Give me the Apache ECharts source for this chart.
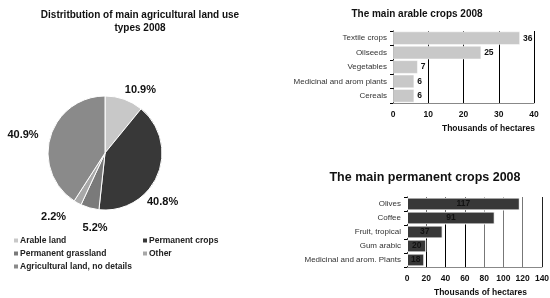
<!DOCTYPE html>
<html>
<head>
    <meta charset="utf-8">
    <title>Agricultural land use 2008</title>
    <script type="text/javascript" src="https://cdn.jsdelivr.net/npm/echarts@6/dist/echarts.min.js"></script>
    <style>
        html, body { margin: 0; padding: 0; background: #fff; }
    </style>
</head>
<body>
    <div id="main" style="width:550px; height:298px;"></div>
    <script type="text/javascript">

    // land use shares (%)
    var landNames = ['Arable land', 'Permanent crops', 'Permanent grassland', 'Other', 'Agricultural land, no details'];
    var landShares = [10.9, 40.8, 5.2, 2.2, 40.9];
    var landColors = ['#c8c8c8', '#383838', '#7a7a7a', '#a8a8a8', '#8a8a8a'];
    // small nudges of the outside labels (the original sits them a bit off the mid angle)
    var pieLabelNudge = [[-11, -2], [-27, 24], [29, 5], [7, 7], [0, 0]];

    // arable crops, thousands of hectares
    var arableCrops = ['Textile crops', 'Oilseeds', 'Vegetables', 'Medicinal and arom plants', 'Cereals'];
    var arableValues = [36, 25, 7, 6, 6];

    // permanent crops, thousands of hectares
    var permCrops = ['Olives', 'Coffee', 'Fruit, tropical', 'Gum arabic', 'Medicinal and arom. Plants'];
    var permValues = [117, 91, 37, 20, 18];

    var FONT = '"Liberation Sans", Arial, sans-serif';
    var myChart = echarts.init(document.getElementById('main'));

    var pieData = landNames.map(function (n, i) {
        return { name: n, value: landShares[i], itemStyle: { color: landColors[i] } };
    });

    var axisLabelStyle = { color: '#111', fontFamily: FONT, fontSize: 8.5, fontWeight: 'bold', margin: 7 };
    var catLabelStyle = { color: '#333', fontFamily: FONT, fontSize: 8, margin: 6 };
    var legendText = { fontFamily: FONT, fontSize: 8.5, fontWeight: 'bold', color: '#222', padding: [0, 0, 0, -4] };

    option = {
        backgroundColor: '#fff',
        animation: false,
        title: [
            {
                text: 'Distritbution of main agricultural land use\ntypes 2008',
                left: 140, top: 9, textAlign: 'center', padding: 0,
                textStyle: { fontFamily: FONT, fontSize: 10, fontWeight: 'bold', color: '#111', lineHeight: 13 }
            },
            {
                text: 'The main arable crops 2008',
                left: 417, top: 9, textAlign: 'center', padding: 0,
                textStyle: { fontFamily: FONT, fontSize: 10, fontWeight: 'bold', color: '#111' }
            },
            {
                text: 'The main permanent crops 2008',
                left: 425, top: 171, textAlign: 'center', padding: 0,
                textStyle: { fontFamily: FONT, fontSize: 12.5, fontWeight: 'bold', color: '#111' }
            }
        ],
        legend: [
            {
                left: 12, top: 236, orient: 'vertical', itemGap: 4, padding: 0,
                itemWidth: 6, itemHeight: 6, icon: 'rect',
                data: ['Arable land', 'Permanent grassland', 'Agricultural land, no details'],
                textStyle: legendText
            },
            {
                left: 141, top: 236, orient: 'vertical', itemGap: 4, padding: 0,
                itemWidth: 6, itemHeight: 6, icon: 'rect',
                data: ['Permanent crops', 'Other'],
                textStyle: legendText
            }
        ],
        grid: [
            { left: 393, top: 31, width: 141, height: 72, outerBoundsMode: 'none' },
            { left: 407, top: 197, width: 135, height: 70, outerBoundsMode: 'none' }
        ],
        xAxis: [
            {
                gridIndex: 0, type: 'value', min: 0, max: 40, interval: 10,
                name: 'Thousands of hectares', nameLocation: 'middle', nameGap: 21,
                nameTextStyle: { fontFamily: FONT, fontSize: 8.5, fontWeight: 'bold', color: '#111', padding: [0, 0, 0, 50] },
                axisLine: { show: true, lineStyle: { color: '#888' } },
                axisTick: { show: false },
                axisLabel: axisLabelStyle,
                splitLine: { show: true, lineStyle: { color: '#000', width: 1 } }
            },
            {
                gridIndex: 1, type: 'value', min: 0, max: 140, interval: 20,
                name: 'Thousands of hectares', nameLocation: 'middle', nameGap: 21,
                nameTextStyle: { fontFamily: FONT, fontSize: 8.5, fontWeight: 'bold', color: '#111', padding: [0, 0, 0, 12] },
                axisLine: { show: true, lineStyle: { color: '#888' } },
                axisTick: { show: false },
                axisLabel: axisLabelStyle,
                splitLine: { show: true, lineStyle: { color: ['#000', '#000', '#000', '#000', '#777', '#777', '#777', '#222'], width: 1 } }
            }
        ],
        yAxis: [
            {
                gridIndex: 0, type: 'category', inverse: true, data: arableCrops,
                axisLine: { show: true, lineStyle: { color: '#000' } },
                axisTick: { show: true, length: 3, lineStyle: { color: '#000' } },
                axisLabel: catLabelStyle
            },
            {
                gridIndex: 1, type: 'category', inverse: true, data: permCrops,
                axisLine: { show: true, lineStyle: { color: '#000' } },
                axisTick: { show: true, length: 3, lineStyle: { color: '#000' } },
                axisLabel: catLabelStyle
            }
        ],
        series: [
            {
                name: 'Land use',
                type: 'pie',
                center: [105, 153],
                radius: 57,
                startAngle: 90,
                clockwise: true,
                data: pieData,
                itemStyle: { borderColor: '#fff', borderWidth: 1 },
                label: {
                    show: true, position: 'outside', overflow: 'none',
                    formatter: function (p) { return p.value.toFixed(1) + '%'; },
                    fontFamily: FONT, fontSize: 11, fontWeight: 'bold', color: '#111'
                },
                labelLine: { show: false, length: 8, length2: 4 },
                labelLayout: function (params) {
                    var n = pieLabelNudge[params.dataIndex];
                    return { dx: n[0], dy: n[1] };
                }
            },
            {
                name: 'Arable crops',
                type: 'bar',
                xAxisIndex: 0, yAxisIndex: 0,
                data: arableValues,
                barCategoryGap: '8%',
                itemStyle: { color: '#c8c8c8', borderColor: '#fff', borderWidth: 0.5 },
                label: {
                    show: true, position: 'right', distance: 3,
                    fontFamily: FONT, fontSize: 8.5, fontWeight: 'bold', color: '#111'
                }
            },
            {
                name: 'Permanent crops',
                type: 'bar',
                xAxisIndex: 1, yAxisIndex: 1,
                data: permValues,
                barCategoryGap: '8%',
                itemStyle: { color: '#383838', borderColor: '#fff', borderWidth: 1 },
                label: {
                    show: true, position: 'inside',
                    fontFamily: FONT, fontSize: 8.5, fontWeight: 'bold',
                    color: '#111', textBorderWidth: 0
                }
            }
        ]
    };

    myChart.setOption(option);
    </script>
</body>
</html>
